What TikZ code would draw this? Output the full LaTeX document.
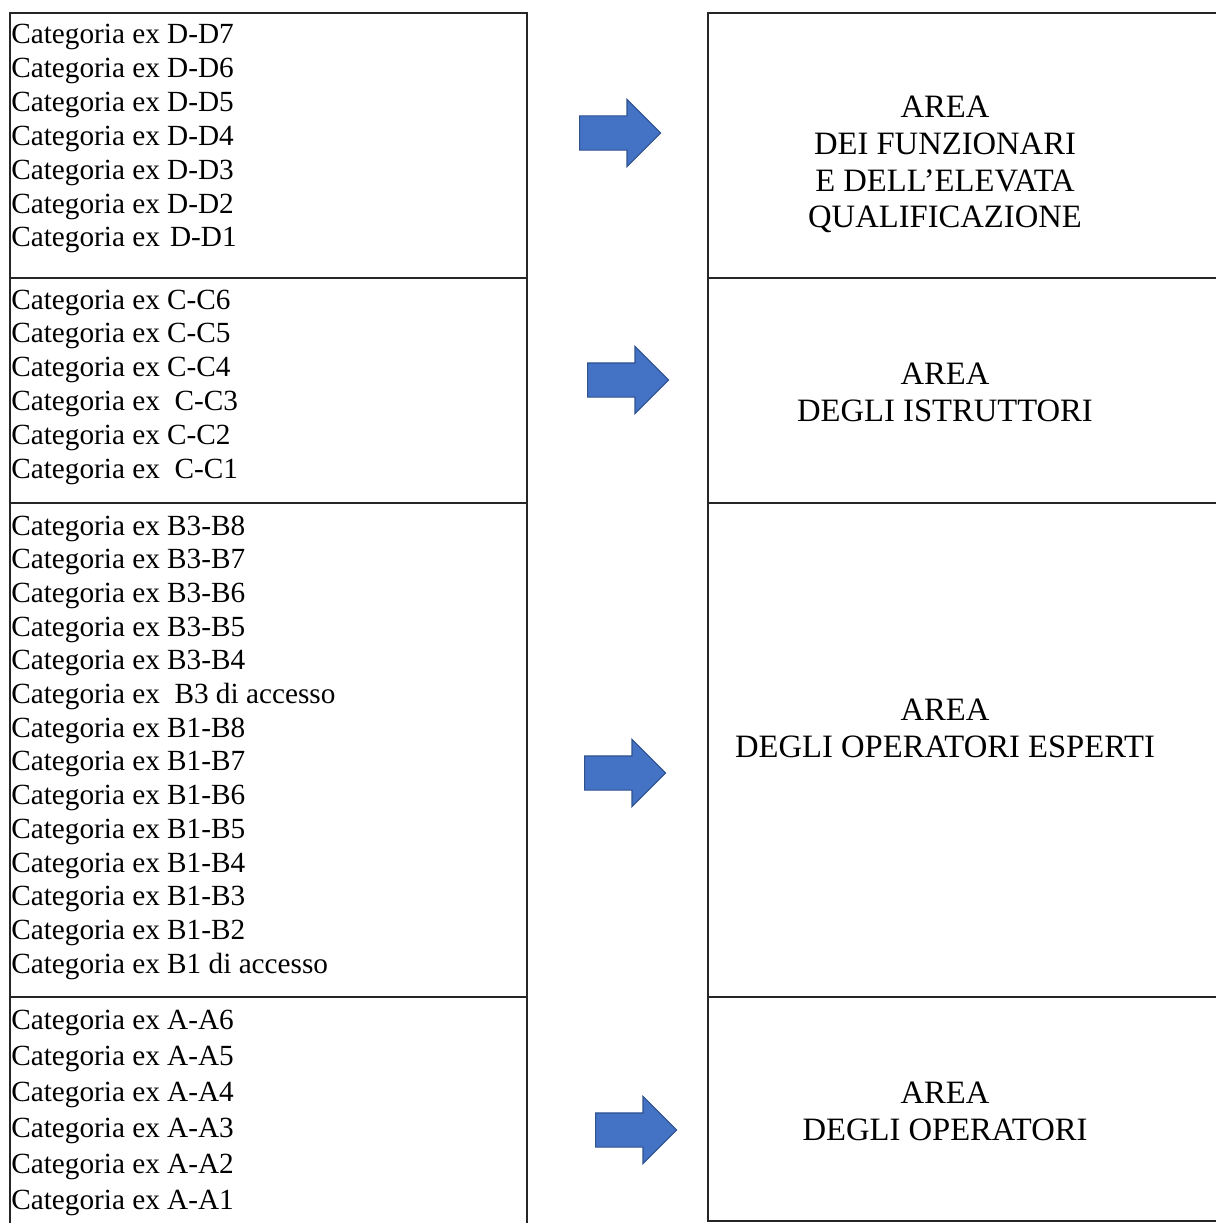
\documentclass[tikz,border=0pt]{standalone}
\usepackage{fontspec}
\setmainfont{Liberation Serif}
\usetikzlibrary{shapes.arrows}
\definecolor{arrowblue}{HTML}{4472C4}
\definecolor{arrowedge}{HTML}{2F528F}
\definecolor{boxline}{HTML}{262626}

\begin{document}
\begin{tikzpicture}[x=0.025cm,y=-0.025cm,
  cat/.style={anchor=base west,inner sep=0pt,font=\fontsize{20.8}{24}\selectfont},
  area/.style={align=center,inner sep=0pt,font=\fontsize{23.2}{26.2}\selectfont},
  box/.style={draw=boxline,line width=2pt},
  blockarrow/.style={single arrow,anchor=tail,fill=arrowblue,draw=arrowedge,line width=0.8pt,
    inner xsep=0pt,inner ysep=0.4125cm,
    minimum height=2.025cm,minimum width=1.65cm,single arrow head extend=0.4125cm}]
  \useasboundingbox (0,0) rectangle (1216,1223);
  \clip (0,0) rectangle (1216,1223);
  % left column
  \draw[box] (10,13) rectangle (527,1240);
  \draw[box] (10,278) -- (527,278) (10,503) -- (527,503) (10,997) -- (527,997);
  % right column
  \draw[box] (1240,13) -- (708,13) -- (708,1221) -- (1240,1221);
  \draw[box] (708,278) -- (1240,278) (708,503) -- (1240,503) (708,997) -- (1240,997);
  \foreach \t [count=\i] in {D-D7,D-D6,D-D5,D-D4,D-D3,D-D2,\kern2pt D-D1}
    \node[cat] (d\i) at (11,{44+33.8*(\i-1)}) {Categoria ex \t};
  \foreach \t [count=\i] in {C-C6,C-C5,C-C4,\ C-C3,C-C2,\ C-C1}
    \node[cat] (c\i) at (11,{309+33.8*(\i-1)}) {Categoria ex \t};
  \foreach \t [count=\i] in {B3-B8,B3-B7,B3-B6,B3-B5,B3-B4,\ B3 di accesso,B1-B8,B1-B7,B1-B6,B1-B5,B1-B4,B1-B3,B1-B2,B1 di accesso}
    \node[cat] (b\i) at (11,{535+33.7*(\i-1)}) {Categoria ex \t};
  \foreach \t [count=\i] in {A-A6,A-A5,A-A4,A-A3,A-A2,A-A1}
    \node[cat] (a\i) at (11,{1029+36*(\i-1)}) {Categoria ex \t};
  \node[area] (funzionari) at (945,164.5) {AREA\\DEI FUNZIONARI\\E DELL’ELEVATA\\QUALIFICAZIONE};
  \node[area] (istruttori) at (945,392) {AREA\\DEGLI ISTRUTTORI};
  \node[area] (esperti) at (945,728) {AREA\\DEGLI OPERATORI ESPERTI};
  \node[area] (operatori) at (945,1111) {AREA\\DEGLI OPERATORI};
  \node[blockarrow] (arr1) at (579,133) {};
  \node[blockarrow] (arr2) at (587,380) {};
  \node[blockarrow] (arr3) at (584,773) {};
  \node[blockarrow] (arr4) at (595,1130) {};
\end{tikzpicture}
\end{document}
